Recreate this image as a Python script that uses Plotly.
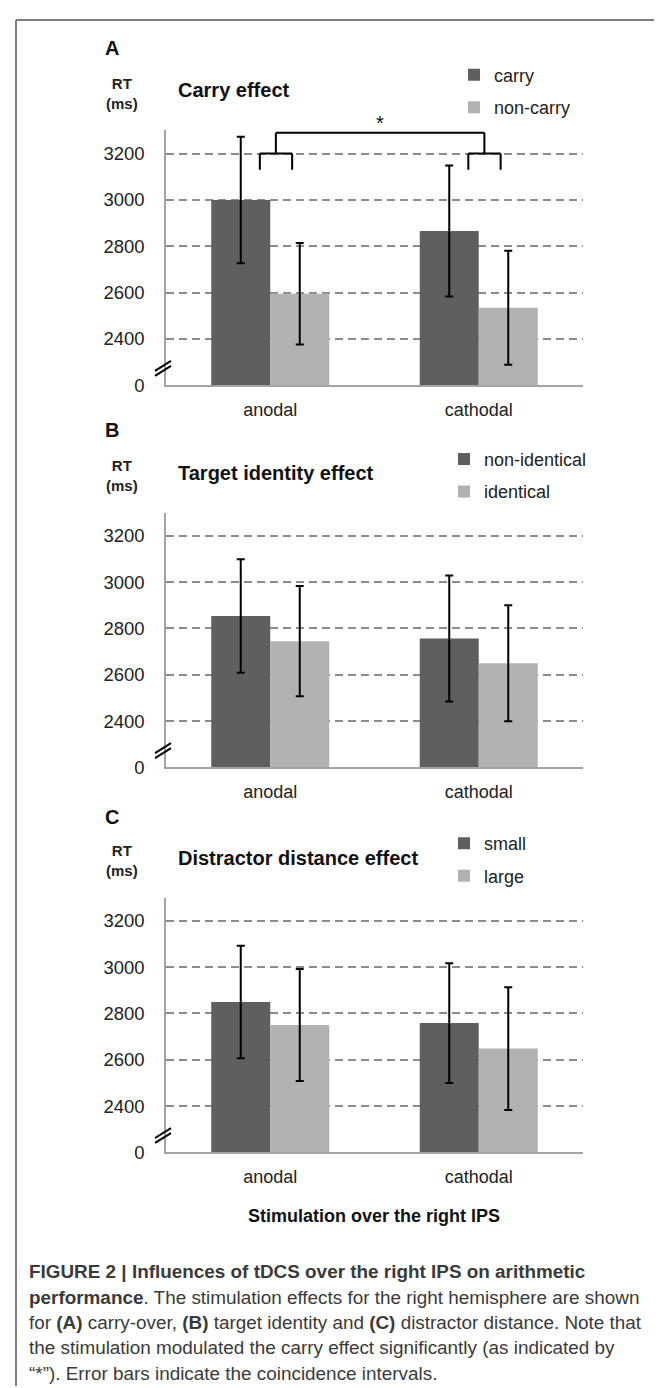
import plotly.graph_objects as go

W, H = 662, 1388
FONT = "Liberation Sans, Arial, Helvetica, sans-serif"

groups = ["anodal", "cathodal"]

# (A) carry effect
carry = [3000, 2866]
carry_err = [273, 283]
noncarry = [2595, 2535]
noncarry_err = [219, 246]

# (B) target identity effect
nonidentical = [2854, 2757]
nonidentical_err = [245, 272]
identical = [2745, 2650]
identical_err = [238, 250]

# (C) distractor distance effect
small = [2849, 2758]
small_err = [243, 258]
large = [2750, 2648]
large_err = [242, 265]

# the axis is broken: the lowest tick stands for 0
tick_vals = [2200, 2400, 2600, 2800, 3000, 3200]
tick_text = ["0", "2400", "2600", "2800", "3000", "3200"]
y_range = [2200, 3300]

DARK = "#5f5f5f"
LIGHT = "#b2b2b2"


def px_x(x):
    return x / W


def px_y(y):
    return 1 - y / H


panels = [
    dict(letter="A", title="Carry effect", names=["carry", "non-carry"],
         vals=[carry, noncarry], errs=[carry_err, noncarry_err],
         top=123.3, bottom=380, letter_y=40, title_y=83, leg_x=446, leg_y=49),
    dict(letter="B", title="Target identity effect", names=["non-identical", "identical"],
         vals=[nonidentical, identical], errs=[nonidentical_err, identical_err],
         top=508.3, bottom=765, letter_y=425, title_y=468, leg_x=436, leg_y=436),
    dict(letter="C", title="Distractor distance effect", names=["small", "large"],
         vals=[small, large], errs=[small_err, large_err],
         top=896, bottom=1152.7, letter_y=815, title_y=856, leg_x=436, leg_y=823),
]

fig = go.Figure()
layout = dict(
    width=W, height=H, margin=dict(l=0, r=0, t=0, b=0),
    paper_bgcolor="white", plot_bgcolor="white",
    barmode="group", bargap=0.434, bargroupgap=0,
    font=dict(family=FONT, color="#222"),
)
annotations = []
shapes = []

for i, p in enumerate(panels):
    n = "" if i == 0 else str(i + 1)
    leg = "legend" + n
    for k, col in enumerate([DARK, LIGHT]):
        fig.add_trace(go.Bar(
            x=groups, y=p["vals"][k], name=p["names"][k],
            marker=dict(color=col, line=dict(width=0)),
            error_y=dict(type="data", array=p["errs"][k], color="black",
                         thickness=2, width=4),
            xaxis="x" + n, yaxis="y" + n, legend=leg,
            legendgroup=p["letter"] + str(k),
        ))
    layout["xaxis" + n] = dict(
        domain=[px_x(158), px_x(575)], anchor="y" + n,
        showline=True, linecolor="#a3a3a3", linewidth=1.5,
        ticks="", ticklabelstandoff=7, tickfont=dict(size=18, color="#222"),
        showgrid=False, fixedrange=True,
    )
    layout["yaxis" + n] = dict(
        domain=[px_y(p["bottom"]), px_y(p["top"])], anchor="x" + n,
        range=y_range, tickvals=tick_vals, ticktext=tick_text,
        showline=True, linecolor="#a3a3a3", linewidth=1.5,
        showgrid=True, gridcolor="#8c8c8c", gridwidth=2, griddash="8px,5px",
        zeroline=False, ticks="", ticklabelstandoff=16,
        tickfont=dict(size=18.5, color="#222"), fixedrange=True,
    )
    layout[leg] = dict(
        x=px_x(p["leg_x"]), y=px_y(p["leg_y"]), xanchor="left", yanchor="top",
        font=dict(size=18, color="#222"), bgcolor="rgba(0,0,0,0)",
        traceorder="grouped", tracegroupgap=6, itemwidth=30,
    )
    annotations += [
        dict(text="<b>%s</b>" % p["letter"], x=px_x(95), y=px_y(p["letter_y"]),
             xanchor="left", yanchor="middle", font=dict(size=20, color="#111")),
        dict(text="<b>RT<br>(ms)</b>", x=px_x(114), y=px_y(p["title_y"] + 3),
             xanchor="center", yanchor="middle", font=dict(size=15, color="#222")),
        dict(text="<b>%s</b>" % p["title"], x=px_x(168), y=px_y(p["title_y"]),
             xanchor="left", yanchor="middle", font=dict(size=20, color="#111")),
    ]
    # broken axis marks
    yb = p["bottom"] - 17
    for d in (-2.5, 2.5):
        shapes.append(dict(type="line", xref="paper", yref="paper",
                           x0=px_x(147), y0=px_y(yb + 5 + d),
                           x1=px_x(163), y1=px_y(yb - 5 + d),
                           line=dict(color="black", width=2)))

for a in annotations:
    a.update(xref="paper", yref="paper", showarrow=False)

# significance bracket in panel A
br = dict(color="black", width=2)
top_y, mid_y, leg_y = 3290, 3200, 3130
for c in (0, 1):
    shapes.append(dict(type="line", xref="x", yref="y", x0=c - 0.05, x1=c + 0.105,
                       y0=mid_y, y1=mid_y, line=br))
    shapes.append(dict(type="line", xref="x", yref="y", x0=c - 0.05, x1=c - 0.05,
                       y0=mid_y, y1=leg_y, line=br))
    shapes.append(dict(type="line", xref="x", yref="y", x0=c + 0.105, x1=c + 0.105,
                       y0=mid_y, y1=leg_y, line=br))
    shapes.append(dict(type="line", xref="x", yref="y", x0=c + 0.027, x1=c + 0.027,
                       y0=mid_y, y1=top_y, line=br))
shapes.append(dict(type="line", xref="x", yref="y", x0=0.027, x1=1.027,
                   y0=top_y, y1=top_y, line=br))
annotations.append(dict(text="*", x=0.527, y=top_y, xref="x", yref="y",
                        xanchor="center", yanchor="bottom", showarrow=False,
                        yshift=-3, font=dict(size=20, color="#111")))

annotations.append(dict(text="<b>Stimulation over the right IPS</b>",
                        x=px_x(366), y=px_y(1217), xref="paper", yref="paper",
                        xanchor="center", yanchor="middle", showarrow=False,
                        font=dict(size=18, color="#111")))

# figure frame (open at the bottom)
frame = dict(color="#555", width=1.5)
shapes += [
    dict(type="line", xref="paper", yref="paper", x0=px_x(8), x1=px_x(8),
         y0=px_y(12), y1=0, line=frame),
    dict(type="line", xref="paper", yref="paper", x0=px_x(8), x1=px_x(654),
         y0=px_y(12), y1=px_y(12), line=frame),
    dict(type="line", xref="paper", yref="paper", x0=px_x(654), x1=px_x(654),
         y0=px_y(12), y1=0, line=frame),
]

caption = [
    "<b>FIGURE 2 | Influences of tDCS over the right IPS on arithmetic</b>",
    "<b>performance</b>. The stimulation effects for the right hemisphere are shown",
    "for <b>(A)</b> carry-over, <b>(B)</b> target identity and <b>(C)</b> distractor distance. Note that",
    "the stimulation modulated the carry effect significantly (as indicated by",
    "\u201c*\u201d). Error bars indicate the coincidence intervals.",
]
for j, line in enumerate(caption):
    annotations.append(dict(text=line, x=px_x(19), y=px_y(1273 + 25.5 * j),
                            xref="paper", yref="paper", xanchor="left",
                            yanchor="middle", showarrow=False,
                            font=dict(size=18.9, color="#3a3a3a")))

layout["annotations"] = annotations
layout["shapes"] = shapes
fig.update_layout(**layout)

fig.write_html("out.html")
